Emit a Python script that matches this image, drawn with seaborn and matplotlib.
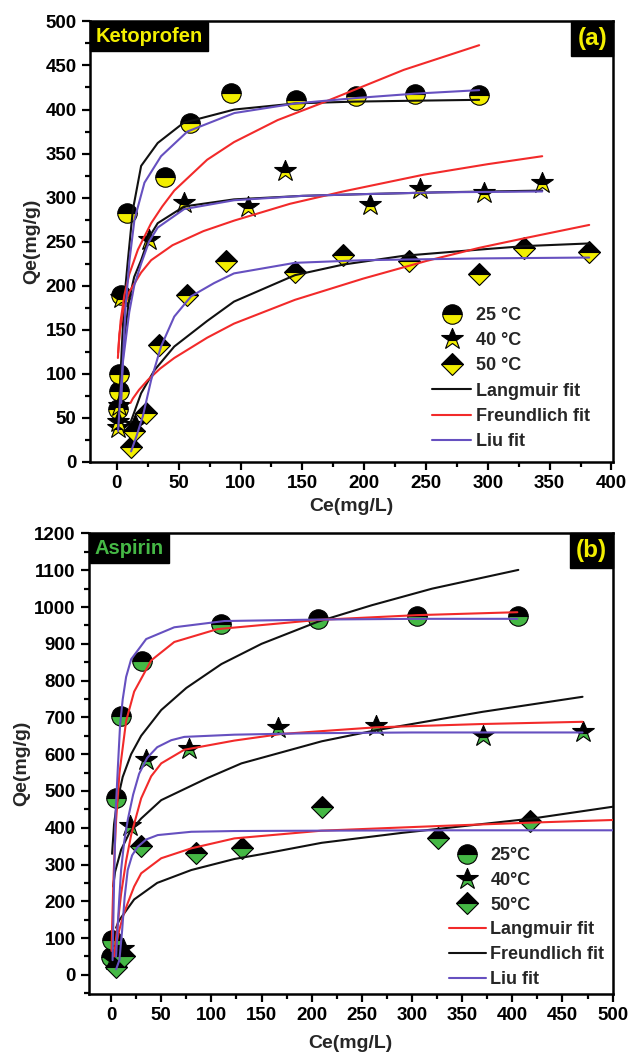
import matplotlib

matplotlib.use("Agg")

import matplotlib.pyplot as plt
import seaborn as sns
from matplotlib.lines import Line2D
from matplotlib.ticker import MultipleLocator

sns.set_theme(style="ticks")

plt.rcParams.update({
    "font.family": ["Liberation Sans", "DejaVu Sans"],
    "font.weight": "bold",
    "axes.labelweight": "bold",
    "axes.linewidth": 1.8,
    "axes.edgecolor": "black",
    "xtick.color": "black",
    "ytick.color": "black",
})

BLACK = "#111111"
RED = "#f22a2a"
PURPLE = "#6650c0"
YELLOW = "#f2ee00"
GREEN = "#45b845"

# ---- Ketoprofen (a): measured points ----
keto_25_ce = [1.0, 1.5, 2.0, 3.0, 8.5, 39, 59, 92, 145, 193, 241, 293]
keto_25_qe = [60, 80, 100, 190, 283, 323, 385, 419, 411, 415, 418, 417]
keto_40_ce = [0.5, 1.2, 2.0, 3.5, 15, 26, 54, 106, 136, 205, 245, 297, 344]
keto_40_qe = [38, 45, 63, 186, 42, 252, 294, 289, 330, 292, 310, 305, 317]
keto_50_ce = [11.6, 14.2, 23.6, 34, 57, 88, 144, 183, 236, 293, 329, 382]
keto_50_qe = [17, 35, 55, 133, 190, 228, 216, 235, 228, 213, 243, 238]

# ---- Ketoprofen (a): fitted curves ----
keto_lang_25_ce = [2, 4, 6, 8.9, 12.9, 19.6, 33, 54, 95, 145, 193, 241, 293]
keto_lang_25_qe = [70, 130, 185, 229, 286, 336, 362, 385, 400, 407, 409, 410, 411]
keto_freu_25_ce = [1, 3, 6, 10, 17, 27.7, 36.7, 46.4, 73, 94.7, 130, 167, 232, 293]
keto_freu_25_qe = [124, 160, 189, 213, 241, 271, 290, 308, 343, 363, 388, 408, 445, 473]
keto_liu_25_ce = [3.5, 5, 7, 10.2, 14.2, 22.3, 35.7, 57, 95, 145, 193, 241, 293]
keto_liu_25_qe = [67, 120, 175, 229, 275, 317, 347, 375, 396, 407, 413, 418, 422]

keto_lang_40_ce = [1, 3, 5, 10, 14, 19.6, 26, 33, 54.4, 94.7, 150, 200, 260, 344]
keto_lang_40_qe = [40, 94, 130, 185, 210, 229, 255, 271, 290, 298, 302, 304, 306, 308]
keto_freu_40_ce = [0.8, 2, 5, 10, 19.6, 27.7, 45, 70, 95, 140, 183, 248, 300, 344]
keto_freu_40_qe = [118, 145, 172, 193, 215, 229, 246, 262, 274, 293, 307, 326, 338, 347]
keto_liu_40_ce = [1, 3, 5, 10, 14, 19.6, 26, 33, 54.4, 94.7, 150, 200, 260, 344]
keto_liu_40_qe = [35, 80, 115, 170, 200, 225, 250, 266, 287, 297, 302, 304, 306, 307]

keto_lang_50_ce = [11, 12.9, 19.6, 30.3, 46.4, 73, 94.7, 144, 183, 232, 293, 330, 382]
keto_lang_50_qe = [45, 52, 78, 104, 131, 160, 182, 212, 224, 234, 241, 245, 248]
keto_freu_50_ce = [11, 12.9, 18, 25, 35, 46.4, 73, 94.7, 144, 199, 250, 293, 330, 382]
keto_freu_50_qe = [67, 72, 82, 93, 106, 118, 141, 157, 184, 208, 228, 243, 254, 269]
keto_liu_50_ce = [11.5, 16, 21, 27.7, 35.7, 46.4, 60, 78.6, 94.7, 144, 200, 293, 382]
keto_liu_50_qe = [12, 30, 52, 93, 131, 165, 188, 203, 214, 226, 229, 231, 232]

# ---- Aspirin (b): measured points ----
asp_25_ce = [0, 1, 5, 10, 31, 110, 206, 305, 406]
asp_25_qe = [48, 95, 480, 705, 853, 955, 968, 975, 975]
asp_40_ce = [2, 12, 19, 35, 78, 166, 264, 371, 470]
asp_40_qe = [40, 70, 405, 585, 613, 671, 677, 650, 659]
asp_50_ce = [5, 13, 30, 85, 131, 210, 326, 418]
asp_50_qe = [20, 52, 350, 330, 345, 455, 373, 418]

# ---- Aspirin (b): fitted curves ----
asp_lang_25_ce = [0.5, 1, 2, 3, 5, 8.3, 15, 23, 40, 63, 106, 206, 305, 405]
asp_lang_25_qe = [65, 127, 225, 303, 420, 547, 690, 770, 855, 905, 940, 965, 978, 986]
asp_freu_25_ce = [1, 3, 6, 11.6, 20, 30, 50, 75, 110, 150, 206, 260, 320, 406]
asp_freu_25_qe = [329, 410, 470, 538, 600, 650, 720, 780, 845, 900, 960, 1005, 1050, 1101]
asp_liu_25_ce = [1.5, 3, 4.5, 6.7, 9, 11.6, 15, 20, 35, 63, 113, 206, 305, 405]
asp_liu_25_qe = [40, 250, 440, 560, 680, 749, 810, 858, 913, 945, 962, 966, 968, 968]

asp_lang_40_ce = [3, 5, 10, 15, 20, 30, 40, 50, 73, 123, 170, 264, 370, 470]
asp_lang_40_qe = [50, 100, 220, 310, 380, 480, 540, 575, 612, 637, 655, 673, 682, 688]
asp_freu_40_ce = [2, 4, 10, 19, 30, 50, 96, 130, 210, 264, 370, 470]
asp_freu_40_qe = [240, 280, 340, 390, 425, 475, 535, 575, 635, 665, 715, 756]
asp_liu_40_ce = [5, 8, 10, 13, 16.6, 22, 28, 36, 46, 60, 73, 123, 200, 300, 470]
asp_liu_40_qe = [50, 200, 285, 360, 421, 490, 547, 590, 619, 638, 647, 653, 657, 659, 659]

asp_lang_50_ce = [5, 8, 12, 16.6, 23, 30, 50, 80, 123, 210, 330, 420, 500]
asp_lang_50_qe = [80, 120, 160, 195, 240, 276, 317, 344, 371, 392, 405, 414, 421]
asp_freu_50_ce = [5, 8, 13, 23, 46, 80, 123, 150, 210, 290, 370, 420, 500]
asp_freu_50_qe = [128, 148, 167, 205, 250, 285, 315, 328, 359, 386, 410, 425, 457]
asp_liu_50_ce = [5, 8.3, 11, 13.5, 16.6, 21, 26.5, 35, 46.5, 80, 123, 210, 330, 500]
asp_liu_50_qe = [15, 40, 120, 210, 285, 325, 348, 368, 380, 389, 391, 392, 393, 393]

MARKERS = [("o", 14), ("*", 16.5), ("D", 11.5)]
LW = 1.5


def marker_style(marker, size, alt):
    return dict(marker=marker, markersize=size, fillstyle="top",
                markerfacecolor="black", markerfacecoloralt=alt,
                markeredgecolor="black", markeredgewidth=0.8)


def draw_points(ax, ce, qe, marker, size, alt):
    sns.lineplot(x=ce, y=qe, ax=ax, estimator=None, sort=False,
                 linestyle="none", color="black", zorder=2,
                 **marker_style(marker, size, alt))


def draw_fit(ax, ce, qe, color):
    sns.lineplot(x=ce, y=qe, ax=ax, estimator=None, sort=False,
                 color=color, linewidth=LW, zorder=3)


def style_axes(ax, xmax, xmaj, ylim, ymaj):
    ax.set_xlim(-22, xmax)
    ax.set_ylim(*ylim)
    ax.xaxis.set_major_locator(MultipleLocator(xmaj))
    ax.xaxis.set_minor_locator(MultipleLocator(xmaj / 2))
    ax.yaxis.set_major_locator(MultipleLocator(ymaj))
    ax.yaxis.set_minor_locator(MultipleLocator(ymaj / 2))
    ax.tick_params(which="both", direction="out", top=False, right=False,
                   labelsize=13.5, width=1.6)
    ax.tick_params(which="major", length=6)
    ax.tick_params(which="minor", length=3.5)
    for spine in ax.spines.values():
        spine.set_visible(True)
        spine.set_linewidth(1.8)
        spine.set_color("black")
    ax.set_xlabel("Ce(mg/L)", fontsize=14, fontweight="bold")
    ax.set_ylabel("Qe(mg/g)", fontsize=14, fontweight="bold")


def tag(ax, text, color, size, right=False):
    ax.annotate(text, xy=(1 if right else 0, 1), xycoords="axes fraction",
                xytext=(-4 if right else 4, -4), textcoords="offset points",
                ha="right" if right else "left", va="top", color=color,
                fontsize=size, fontweight="bold", zorder=5,
                bbox=dict(boxstyle="square,pad=0.25", fc="black", ec="black"))


def add_legend(ax, labels, alt, line_labels, line_colors, anchor, hlen, spacing):
    handles = [Line2D([], [], linestyle="none", **marker_style(m, s, alt))
               for m, s in MARKERS]
    handles += [Line2D([], [], color=c, linewidth=LW) for c in line_colors]
    ax.legend(handles, labels + line_labels, loc="upper left",
              bbox_to_anchor=anchor, frameon=False, borderpad=0,
              borderaxespad=0, handlelength=hlen, handletextpad=0.25,
              labelspacing=spacing, prop={"size": 13, "weight": "bold"})


fig = plt.figure(figsize=(6.33, 10.6), dpi=100)
ax_a = fig.add_axes([0.1417, 0.5642, 0.8262, 0.4156])
ax_b = fig.add_axes([0.1406, 0.0623, 0.8272, 0.4344])

# Panel (a): Ketoprofen
for (ce, qe), (m, s) in zip([(keto_25_ce, keto_25_qe), (keto_40_ce, keto_40_qe),
                             (keto_50_ce, keto_50_qe)], MARKERS):
    draw_points(ax_a, ce, qe, m, s, YELLOW)

draw_fit(ax_a, keto_lang_25_ce, keto_lang_25_qe, BLACK)
draw_fit(ax_a, keto_lang_40_ce, keto_lang_40_qe, BLACK)
draw_fit(ax_a, keto_lang_50_ce, keto_lang_50_qe, BLACK)
draw_fit(ax_a, keto_freu_25_ce, keto_freu_25_qe, RED)
draw_fit(ax_a, keto_freu_40_ce, keto_freu_40_qe, RED)
draw_fit(ax_a, keto_freu_50_ce, keto_freu_50_qe, RED)
draw_fit(ax_a, keto_liu_25_ce, keto_liu_25_qe, PURPLE)
draw_fit(ax_a, keto_liu_40_ce, keto_liu_40_qe, PURPLE)
draw_fit(ax_a, keto_liu_50_ce, keto_liu_50_qe, PURPLE)

style_axes(ax_a, 401, 50, (0, 500), 50)
ax_a.yaxis.set_label_coords(-0.095, 0.5)
ax_a.xaxis.set_label_coords(0.5, -0.082)
tag(ax_a, "Ketoprofen", YELLOW, 14.5)
tag(ax_a, "(a)", YELLOW, 17.5, right=True)
add_legend(ax_a, ["25 °C", "40 °C", "50 °C"], YELLOW,
           ["Langmuir fit", "Freundlich fit", "Liu fit"], [BLACK, RED, PURPLE],
           (0.654, 0.352), 2.2, 0.46)

# Panel (b): Aspirin
for (ce, qe), (m, s) in zip([(asp_25_ce, asp_25_qe), (asp_40_ce, asp_40_qe),
                             (asp_50_ce, asp_50_qe)], MARKERS):
    draw_points(ax_b, ce, qe, m, s, GREEN)

draw_fit(ax_b, asp_freu_25_ce, asp_freu_25_qe, BLACK)
draw_fit(ax_b, asp_freu_40_ce, asp_freu_40_qe, BLACK)
draw_fit(ax_b, asp_freu_50_ce, asp_freu_50_qe, BLACK)
draw_fit(ax_b, asp_lang_25_ce, asp_lang_25_qe, RED)
draw_fit(ax_b, asp_lang_40_ce, asp_lang_40_qe, RED)
draw_fit(ax_b, asp_lang_50_ce, asp_lang_50_qe, RED)
draw_fit(ax_b, asp_liu_25_ce, asp_liu_25_qe, PURPLE)
draw_fit(ax_b, asp_liu_40_ce, asp_liu_40_qe, PURPLE)
draw_fit(ax_b, asp_liu_50_ce, asp_liu_50_qe, PURPLE)

style_axes(ax_b, 500, 50, (-52, 1200), 100)
ax_b.yaxis.set_label_coords(-0.113, 0.5)
ax_b.xaxis.set_label_coords(0.5, -0.089)
tag(ax_b, "Aspirin", GREEN, 14.5)
tag(ax_b, "(b)", YELLOW, 17.5, right=True)
add_legend(ax_b, ["25°C", "40°C", "50°C"], GREEN,
           ["Langmuir fit", "Freundlich fit", "Liu fit"], [RED, BLACK, PURPLE],
           (0.687, 0.319), 2.05, 0.43)

fig.savefig("out.png", dpi=100, facecolor="white")
plt.close(fig)
